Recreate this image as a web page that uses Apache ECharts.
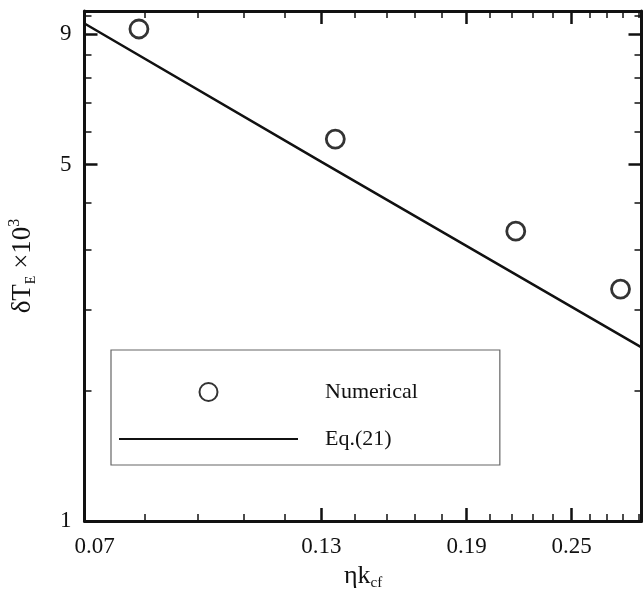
<!DOCTYPE html>
<html>
<head>
<meta charset="utf-8">
<script src="https://cdn.jsdelivr.net/npm/echarts@6/dist/echarts.min.js"></script>
<style>html,body{margin:0;padding:0;background:#fff}#c{width:643px;height:592px}</style>
</head>
<body>
<div id="c"></div>
<script>
// ---- data ----
const numX = [0.0807, 0.1348, 0.216, 0.284];
const numY = [9.22, 5.61, 3.70, 2.85];
const eqX = [0.07, 0.13, 0.3];
const eqY = [9.45, 5.06, 2.19];
const xMajor = [0.07, 0.13, 0.19, 0.25];
const xMajorLabels = ['0.07', '0.13', '0.19', '0.25'];
const xMinor = [0.082, 0.094, 0.106, 0.118, 0.142, 0.154, 0.166, 0.178, 0.202, 0.214, 0.226, 0.238, 0.262, 0.274, 0.286, 0.298];
const yMajor = [1, 5, 9];
const yMajorLabels = ['1', '5', '9'];
const yMinor = [1.8, 2.6, 3.4, 4.2, 5.8, 6.6, 7.4, 8.2, 9.8];
const xRange = [0.07, 0.3];
const yRange = [1, 10];

const L = Math.log10;
const FONT = 'Liberation Serif';
const INK = '#111';

function labelFor(v, ticks, labels) {
  let best = 0, d = Infinity;
  ticks.forEach((t, i) => { const e = Math.abs(L(t) - v); if (e < d) { d = e; best = i; } });
  return labels[best];
}

function axis(kind, pos, ticks, len, w, main, labels) {
  const a = {
    type: 'value', position: pos, gridIndex: 0,
    min: L(kind === 'x' ? xRange[0] : yRange[0]),
    max: L(kind === 'x' ? xRange[1] : yRange[1]),
    splitLine: { show: false },
    axisLine: { show: main, onZero: false, lineStyle: { color: INK, width: 3 } },
    axisTick: { show: true, inside: true, length: len, customValues: ticks.map(L), lineStyle: { color: INK, width: w } },
    axisLabel: { show: false }
  };
  if (labels) {
    a.axisLabel = {
      show: true, customValues: ticks.map(L), fontFamily: FONT, fontSize: 23, color: INK,
      margin: kind === 'x' ? 14 : 13,
      formatter: v => {
        const s = labelFor(v, ticks, labels);
        return (kind === 'x' && s === '0.07') ? '{f|' + s + '}' : s;
      },
      rich: { f: { fontFamily: FONT, fontSize: 23, color: INK, padding: [0, 0, 0, 20] } }
    };
  }
  return a;
}

const xAxes = [
  axis('x', 'bottom', xMajor, 13, 2.5, true, xMajorLabels),
  axis('x', 'bottom', xMinor, 7, 1.5, false, null),
  axis('x', 'top', xMajor, 13, 2.5, true, null),
  axis('x', 'top', xMinor, 7, 1.5, false, null)
];
const yAxes = [
  axis('y', 'left', yMajor, 13, 2.5, true, yMajorLabels),
  axis('y', 'left', yMinor, 7, 1.5, false, null),
  axis('y', 'right', yMajor, 13, 2.5, true, null),
  axis('y', 'right', yMinor, 7, 1.5, false, null)
];

xAxes[0].name = '{m|ηk}{s|cf}';
xAxes[0].nameLocation = 'middle';
xAxes[0].nameGap = 25;
xAxes[0].nameTextStyle = {
  rich: {
    m: { fontFamily: FONT, fontSize: 26, color: INK, lineHeight: 30 },
    s: { fontFamily: FONT, fontSize: 15, color: INK, lineHeight: 15, verticalAlign: 'bottom' }
  }
};
yAxes[0].name = '{m|δT}{s|E}{m| ×10}{p|3}';
yAxes[0].nameLocation = 'middle';
yAxes[0].nameRotate = 90;
yAxes[0].nameGap = 46;
yAxes[0].nameTextStyle = {
  rich: {
    m: { fontFamily: FONT, fontSize: 27, color: INK, lineHeight: 32 },
    s: { fontFamily: FONT, fontSize: 14, color: INK, lineHeight: 14, verticalAlign: 'bottom' },
    p: { fontFamily: FONT, fontSize: 16, color: INK, lineHeight: 16, verticalAlign: 'top' }
  }
};

const chart = echarts.init(document.getElementById('c'), null, { renderer: 'canvas' });
chart.setOption({
  animation: false,
  backgroundColor: '#fff',
  grid: { left: 84.5, right: 1.5, top: 11, bottom: 71, containLabel: false, outerBoundsMode: 'none' },
  xAxis: xAxes,
  yAxis: yAxes,
  legend: {
    orient: 'vertical', left: 111, top: 350,
    itemWidth: 179, itemHeight: 18, itemGap: 25,
    padding: [31, 82, 15, 7],
    borderColor: '#666', borderWidth: 1.2,
    textStyle: { fontFamily: FONT, fontSize: 22, color: INK, padding: [0, 0, 0, 22], width: 150 },
    data: ['Numerical', { name: 'Eq.(21)', itemStyle: { opacity: 0 } }]
  },
  series: [
    {
      name: 'Eq.(21)', type: 'line', xAxisIndex: 0, yAxisIndex: 0,
      data: eqX.map((x, i) => [L(x), L(eqY[i])]),
      symbol: 'none', lineStyle: { color: INK, width: 2.5 }, itemStyle: { color: INK }
    },
    {
      name: 'Numerical', type: 'scatter', xAxisIndex: 0, yAxisIndex: 0,
      data: numX.map((x, i) => [L(x), L(numY[i])]),
      symbol: 'circle', symbolSize: 18,
      itemStyle: { color: '#fff', borderColor: '#000', borderWidth: 2.8 }
    }
  ]
});
</script>
</body>
</html>
